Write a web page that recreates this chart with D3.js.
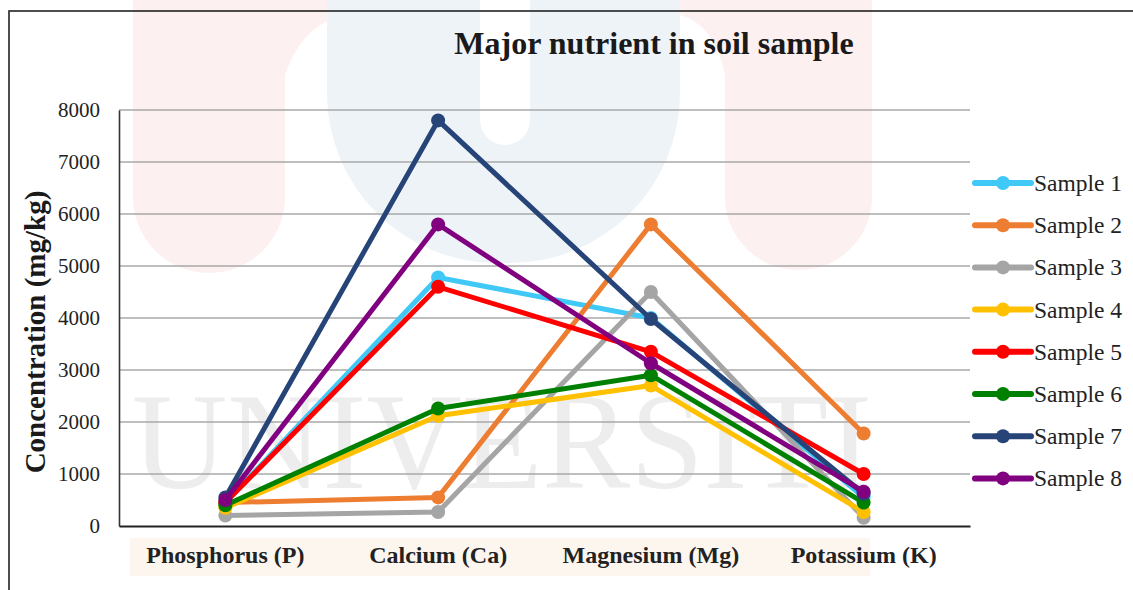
<!DOCTYPE html>
<html>
<head>
<meta charset="utf-8">
<script src="https://cdn.jsdelivr.net/npm/d3@7"></script>
<style>
  html, body { margin: 0; padding: 0; background: #ffffff; }
  svg { display: block; }
</style>
</head>
<body>
<svg id="chart" width="1133" height="590"></svg>
<script>
// Nutrient concentrations (mg/kg) per soil sample
const nutrients = ["Phosphorus (P)", "Calcium (Ca)", "Magnesium (Mg)", "Potassium (K)"];
const sampleNames = ["Sample 1", "Sample 2", "Sample 3", "Sample 4", "Sample 5", "Sample 6", "Sample 7", "Sample 8"];
const sample1 = [450, 4780, 4000, 550];
const sample2 = [450, 550, 5800, 1780];
const sample3 = [200, 270, 4500, 160];
const sample4 = [350, 2120, 2700, 270];
const sample5 = [450, 4600, 3350, 1000];
const sample6 = [400, 2260, 2900, 450];
const sample7 = [550, 7800, 3980, 620];
const sample8 = [500, 5800, 3130, 660];
const yTicks = [0, 1000, 2000, 3000, 4000, 5000, 6000, 7000, 8000];
const seriesColors = ["#40C8F7", "#ED7D31", "#A5A5A5", "#FFC000", "#FF0000", "#008000", "#264478", "#800080"];

const seriesValues = [sample1, sample2, sample3, sample4, sample5, sample6, sample7, sample8];
const series = sampleNames.map((name, i) => ({ name, color: seriesColors[i], values: seriesValues[i] }));

const svg = d3.select("#chart");
const serif = "'Liberation Serif', 'Times New Roman', serif";

// Faint background emblem
const bg = svg.append("g").attr("class", "emblem");
const pink = "#fdf0f0", blue = "#eef3f8";
bg.append("rect").attr("x", 133).attr("y", -120).attr("width", 152).attr("height", 393).attr("rx", 76).attr("fill", pink);
bg.append("path").attr("fill", pink)
  .attr("d", "M270,-10 L335,-10 L335,18 Q300,30 285,75 L270,75 Z");
bg.append("rect").attr("x", 327).attr("y", -200).attr("width", 353).attr("height", 463).attr("rx", 170).attr("fill", blue);
bg.append("rect").attr("x", 480).attr("y", -40).attr("width", 50).attr("height", 185).attr("rx", 25).attr("fill", "#ffffff");
bg.append("path").attr("fill", pink)
  .attr("d", "M680,-10 L740,-10 L740,75 L725,75 Q715,25 680,15 Z");
bg.append("rect").attr("x", 725).attr("y", -120).attr("width", 147).attr("height", 390).attr("rx", 73).attr("fill", pink);
bg.append("text").attr("x", 132).attr("y", 488)
  .attr("textLength", 740).attr("lengthAdjust", "spacingAndGlyphs")
  .attr("font-family", serif).attr("font-size", 138).attr("fill", "#ededed")
  .text("UNIVERSITI");
bg.append("rect").attr("x", 130).attr("y", 538).attr("width", 740).attr("height", 38).attr("fill", "#fdf6ef");

// Outer frame
svg.append("rect").attr("x", 9).attr("y", 11).attr("width", 1140).attr("height", 600)
  .attr("fill", "none").attr("stroke", "#222").attr("stroke-width", 1.6);

const plot = { left: 119, right: 970, top: 110, bottom: 526 };

const x = d3.scaleBand().domain(nutrients).range([plot.left, plot.right]).padding(0);
const y = d3.scaleLinear().domain([0, 8000]).range([plot.bottom, plot.top]);
const cx = d => x(d) + x.bandwidth() / 2;

// Horizontal gridlines
svg.append("g").selectAll("line").data(yTicks.filter(t => t > 0)).join("line")
  .attr("x1", plot.left).attr("x2", plot.right)
  .attr("y1", d => y(d)).attr("y2", d => y(d))
  .attr("stroke", "#a8a8a8").attr("stroke-width", 1.5);

// Y axis
const yAxis = svg.append("g").attr("transform", `translate(${plot.left},0)`)
  .call(d3.axisLeft(y).tickValues(yTicks).tickSize(0).tickPadding(19).tickFormat(d3.format("d")));
yAxis.attr("font-family", serif);
yAxis.select(".domain").attr("stroke", "#333").attr("stroke-width", 1.6);
yAxis.selectAll("text").attr("font-family", serif).attr("font-size", 21).attr("fill", "#222");

// X axis
const xAxis = svg.append("g").attr("transform", `translate(0,${plot.bottom})`)
  .call(d3.axisBottom(x).tickSize(0).tickPadding(20));
xAxis.attr("font-family", serif);
xAxis.select(".domain").attr("stroke", "#222").attr("stroke-width", 2);
xAxis.selectAll("text").attr("font-family", serif).attr("font-size", 24)
  .attr("font-weight", "bold").attr("fill", "#222");

// Series lines and markers
const line = d3.line().x((d, i) => cx(nutrients[i])).y(d => y(d));
const gSeries = svg.append("g").selectAll("g").data(series).join("g");
gSeries.append("path")
  .attr("d", d => line(d.values))
  .attr("fill", "none").attr("stroke", d => d.color)
  .attr("stroke-width", 5).attr("stroke-linejoin", "round");
gSeries.selectAll("circle").data(d => d.values.map(v => ({ v, color: d.color }))).join("circle")
  .attr("cx", (d, i) => cx(nutrients[i])).attr("cy", d => y(d.v))
  .attr("r", 7).attr("fill", d => d.color);

// Title
svg.append("text").attr("x", 654).attr("y", 54).attr("text-anchor", "middle")
  .attr("font-family", serif).attr("font-size", 32).attr("font-weight", "bold").attr("fill", "#1a1a1a")
  .text("Major nutrient in soil sample");

// Y axis title
svg.append("text").attr("transform", "translate(45,332) rotate(-90)").attr("text-anchor", "middle")
  .attr("font-family", serif).attr("font-size", 29).attr("font-weight", "bold").attr("fill", "#1a1a1a")
  .text("Concentration (mg/kg)");

// Legend
const legend = svg.append("g").selectAll("g").data(series).join("g")
  .attr("transform", (d, i) => `translate(975,${183 + i * 42.2})`);
legend.append("line").attr("x1", 0).attr("x2", 56).attr("y1", 0).attr("y2", 0)
  .attr("stroke", d => d.color).attr("stroke-width", 6).attr("stroke-linecap", "round");
legend.append("circle").attr("cx", 28).attr("cy", 0).attr("r", 7).attr("fill", d => d.color);
legend.append("text").attr("x", 59).attr("y", 8)
  .attr("font-family", serif).attr("font-size", 23.5).attr("fill", "#222")
  .text(d => d.name);
</script>
</body>
</html>
